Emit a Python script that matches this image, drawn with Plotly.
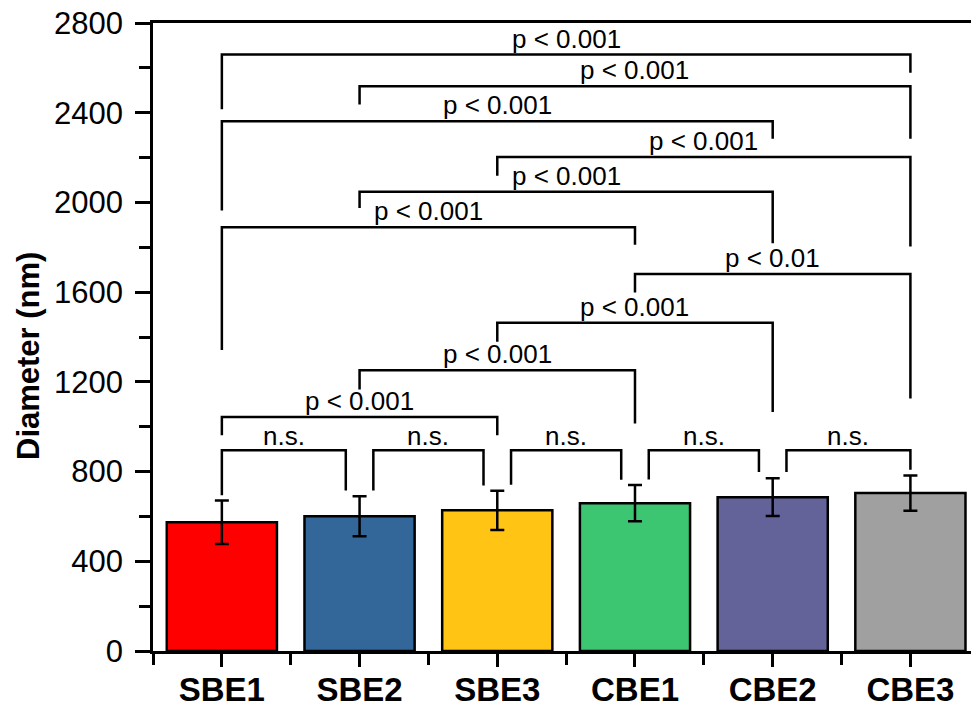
import plotly.graph_objects as go

# Group names and measured particle diameters (mean ± SD, nm)
categories = ["SBE1", "SBE2", "SBE3", "CBE1", "CBE2", "CBE3"]
mean_diameter = [574, 601, 627, 659, 686, 704]
sd_diameter = [97, 89, 88, 81, 84, 79]
bar_colors = ["#FF0000", "#336699", "#FFC414", "#3CC672", "#63639A", "#A0A0A0"]

# Significance brackets: group indices, bracket height, leg end heights, label
br_left = [0, 1, 2, 3, 4, 0, 1, 2, 3, 0, 1, 2, 0, 1, 0]
br_right = [1, 2, 3, 4, 5, 2, 3, 4, 5, 3, 4, 5, 4, 5, 5]
br_left_shift = [0, 0.1, 0.1, 0.1, 0.1, 0, 0, 0, 0, 0, 0, 0, 0, 0, 0]
br_right_shift = [-0.1, -0.1, -0.1, -0.1, 0, 0, 0, 0, 0, 0, 0, 0, 0, 0, 0]
br_top = [895, 895, 895, 895, 895, 1043, 1252, 1464, 1681, 1889, 2048, 2202, 2362, 2518, 2659]
br_left_end = [694, 716, 741, 765, 798, 962, 1166, 1379, 1598, 1342, 1975, 2119, 1964, 2437, 2416]
br_right_end = [716, 738, 763, 798, 808, 962, 1014, 1066, 1126, 1811, 1818, 1803, 2284, 2284, 2578]
br_label = ["n.s.", "n.s.", "n.s.", "n.s.", "n.s.",
            "p < 0.001", "p < 0.001", "p < 0.001", "p < 0.01", "p < 0.001",
            "p < 0.001", "p < 0.001", "p < 0.001", "p < 0.001", "p < 0.001"]

y_ticks = [0, 400, 800, 1200, 1600, 2000, 2400, 2800]

FONT = "Liberation Sans, Arial, sans-serif"
LW = 2.5

fig = go.Figure()

fig.add_trace(go.Bar(
    x=list(range(len(categories))),
    y=mean_diameter,
    width=0.8,
    marker=dict(color=bar_colors, line=dict(color="black", width=LW)),
    error_y=dict(type="data", array=sd_diameter, visible=True,
                 color="black", thickness=LW, width=7),
    hoverinfo="skip",
))

# Bracket lines
bx, by = [], []
for i in range(len(br_label)):
    xl = br_left[i] + br_left_shift[i]
    xr = br_right[i] + br_right_shift[i]
    bx += [xl, xl, xr, xr, None]
    by += [br_left_end[i], br_top[i], br_top[i], br_right_end[i], None]
fig.add_trace(go.Scatter(
    x=bx, y=by, mode="lines",
    line=dict(color="black", width=LW),
    hoverinfo="skip", cliponaxis=False,
))

annotations = []
for i in range(len(br_label)):
    xl = br_left[i] + br_left_shift[i]
    xr = br_right[i] + br_right_shift[i]
    ns = br_label[i] == "n.s."
    annotations.append(dict(
        x=(xl + xr) / 2, y=br_top[i], xref="x", yref="y",
        text=br_label[i], showarrow=False,
        xanchor="center", yanchor="bottom",
        yshift=-3 if ns else -1,
        font=dict(family=FONT, size=26, color="black"),
    ))

# Y axis title
annotations.append(dict(
    x=-124 / 818, y=(651 - 356) / 628, xref="paper", yref="paper",
    text="<b>Diameter (nm)</b>", textangle=-90, showarrow=False,
    xanchor="center", yanchor="middle",
    font=dict(family=FONT, size=31, color="black"),
))

fig.update_layout(
    width=971, height=707,
    margin=dict(l=153, r=0, t=23, b=56, pad=0, autoexpand=False),
    plot_bgcolor="white", paper_bgcolor="white",
    showlegend=False,
    annotations=annotations,
    font=dict(family=FONT, color="black"),
)

fig.update_xaxes(
    range=[-0.5, 5.44],
    automargin=False,
    tickmode="array",
    tickvals=list(range(len(categories))),
    ticktext=[f"<b>{c}</b>" for c in categories],
    tickfont=dict(family=FONT, size=33, color="black"),
    ticks="outside", ticklen=13, tickwidth=LW, tickcolor="black",
    minor=dict(tickmode="array",
               tickvals=[k - 0.5 for k in range(len(categories) + 1)],
               ticks="outside", ticklen=11, tickwidth=LW, tickcolor="black"),
    showline=True, linewidth=LW, linecolor="black", mirror=True,
    showgrid=False, zeroline=False,
    ticklabelstandoff=-5,
)

fig.update_yaxes(
    range=[0, 2800],
    automargin=False,
    tickmode="array", tickvals=y_ticks,
    tickfont=dict(family=FONT, size=31, color="black"),
    ticks="outside", ticklen=15, tickwidth=LW, tickcolor="black",
    minor=dict(dtick=200, tick0=0, ticks="outside", ticklen=11,
               tickwidth=LW, tickcolor="black", showgrid=False),
    showline=True, linewidth=LW, linecolor="black",
    showgrid=False, zeroline=False,
    ticklabelstandoff=6,
)

fig.write_html("out.html")
